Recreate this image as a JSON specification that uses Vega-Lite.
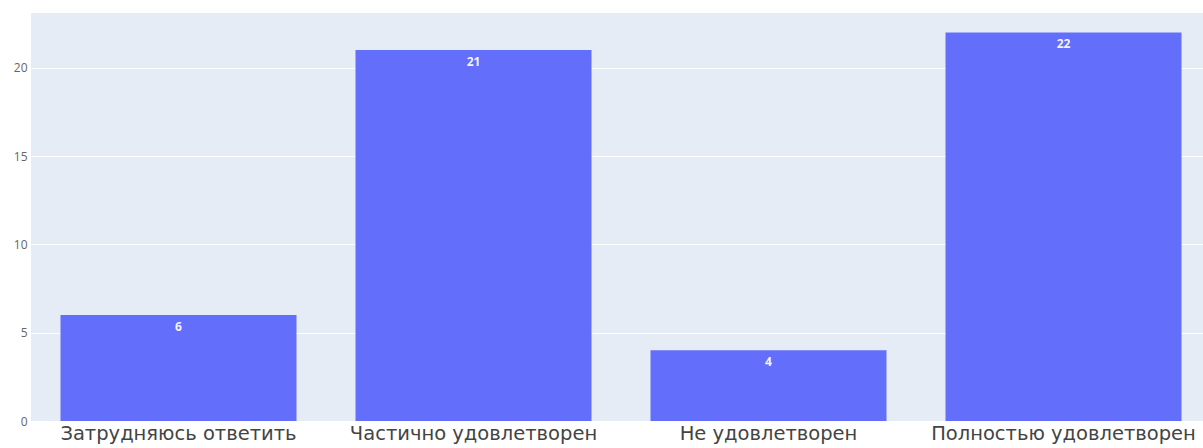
{
  "$schema": "https://vega.github.io/schema/vega-lite/v6.json",
  "autosize": "none",
  "width": 1172,
  "height": 408,
  "padding": {"left": 31, "top": 13, "right": 0, "bottom": 27},
  "background": "white",
  "config": {
    "view": {"fill": "#E5ECF6", "stroke": null},
    "font": "Open Sans"
  },
  "data": {
    "values": [
      {"answer": "Затрудняюсь ответить", "count": 6},
      {"answer": "Частично удовлетворен", "count": 21},
      {"answer": "Не удовлетворен", "count": 4},
      {"answer": "Полностью удовлетворен", "count": 22}
    ]
  },
  "encoding": {
    "x": {
      "field": "answer",
      "type": "nominal",
      "sort": null,
      "scale": {"range": [0, 1180], "paddingInner": 0.2, "paddingOuter": 0.1},
      "axis": {
        "title": null,
        "labelAngle": 0,
        "labelFontSize": 19.5,
        "labelColor": "#444444",
        "labelFont": "DejaVu Sans",
        "labelLimit": 0,
        "labelPadding": 3,
        "ticks": false,
        "domain": false,
        "grid": false
      }
    },
    "y": {
      "field": "count",
      "type": "quantitative",
      "scale": {"domain": [0, 23.1], "nice": false, "zero": true},
      "axis": {
        "title": null,
        "values": [0, 5, 10, 15, 20],
        "labelFontSize": 12,
        "labelColor": "#666666",
        "labelPadding": 4,
        "ticks": false,
        "domain": false,
        "gridColor": "white",
        "gridWidth": 1
      }
    }
  },
  "layer": [
    {"mark": {"type": "bar", "color": "#636EFA"}},
    {
      "mark": {
        "type": "text",
        "baseline": "top",
        "dy": 7,
        "fontSize": 12,
        "fontWeight": "bold",
        "color": "#F2F2F8"
      },
      "encoding": {"text": {"field": "count", "type": "quantitative"}}
    }
  ]
}
